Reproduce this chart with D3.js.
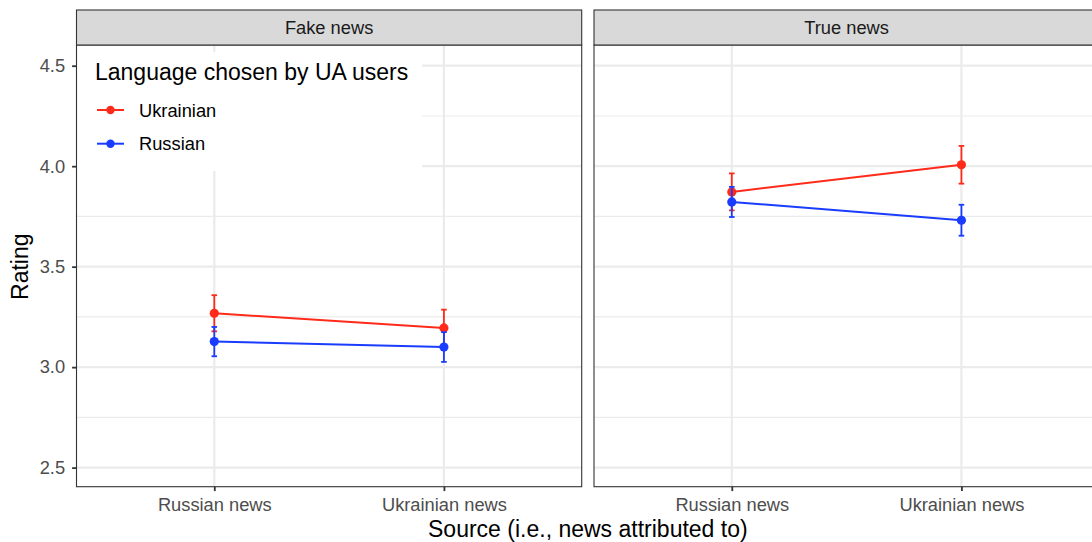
<!DOCTYPE html>
<html>
<head>
<meta charset="utf-8">
<script src="https://cdn.jsdelivr.net/npm/d3@7"></script>
<style>
  html, body { margin: 0; padding: 0; background: #fff; }
  svg { display: block; font-family: "Liberation Sans", Arial, Helvetica, sans-serif; }
</style>
</head>
<body>
<svg id="chart" width="1092" height="542"></svg>
<script>
// ---- data ----
const panels = ["Fake news", "True news"];
const sources = ["Russian news", "Ukrainian news"];
const languages = ["Ukrainian", "Russian"];
const languageColors = ["#ff2a1a", "#1a3cff"];
// means per panel, indexed by source
const fakeUkrainianMean = [3.268, 3.195];
const fakeUkrainianErr  = [0.090, 0.091];
const fakeRussianMean   = [3.127, 3.100];
const fakeRussianErr    = [0.073, 0.074];
const trueUkrainianMean = [3.872, 4.007];
const trueUkrainianErr  = [0.092, 0.094];
const trueRussianMean   = [3.822, 3.731];
const trueRussianErr    = [0.075, 0.077];
const yTicks = [2.5, 3.0, 3.5, 4.0, 4.5];
const yMinorTicks = [2.75, 3.25, 3.75, 4.25];
const yDomain = [2.405, 4.603];

const seriesByPanel = [
  [ {lang: 0, mean: fakeUkrainianMean, err: fakeUkrainianErr},
    {lang: 1, mean: fakeRussianMean, err: fakeRussianErr} ],
  [ {lang: 0, mean: trueUkrainianMean, err: trueUkrainianErr},
    {lang: 1, mean: trueRussianMean, err: trueRussianErr} ]
];

// ---- layout ----
const svg = d3.select("#chart");
const panelLeft = [76.5, 594];
const panelWidth = 505.2;
const panelTop = 45, panelBottom = 486.7, stripTop = 10;
const smallFont = 18.3, bigFont = 23;

const y = d3.scaleLinear().domain(yDomain).range([panelBottom, panelTop]);

panels.forEach((pname, pi) => {
  const x0 = panelLeft[pi];
  const x = d3.scalePoint().domain(sources).range([x0, x0 + panelWidth]).padding(0.6);
  const g = svg.append("g");

  g.append("rect").attr("x", x0).attr("y", panelTop).attr("width", panelWidth)
    .attr("height", panelBottom - panelTop).attr("fill", "#fff");

  g.selectAll(".minor").data(yMinorTicks).join("line")
    .attr("x1", x0).attr("x2", x0 + panelWidth)
    .attr("y1", d => y(d)).attr("y2", d => y(d))
    .attr("stroke", "#ebebeb").attr("stroke-width", 1.1);
  g.selectAll(".major").data(yTicks).join("line")
    .attr("x1", x0).attr("x2", x0 + panelWidth)
    .attr("y1", d => y(d)).attr("y2", d => y(d))
    .attr("stroke", "#ebebeb").attr("stroke-width", 2.2);
  g.selectAll(".vmajor").data(sources).join("line")
    .attr("x1", d => x(d)).attr("x2", d => x(d))
    .attr("y1", panelTop).attr("y2", panelBottom)
    .attr("stroke", "#ebebeb").attr("stroke-width", 2.2);

  if (pi === 0) {
    g.append("rect").attr("x", x0 + 0.5).attr("y", 52).attr("width", 345).attr("height", 119)
      .attr("fill", "#fff");
  }

  const line = d3.line().x((d, i) => x(sources[i])).y(d => y(d));
  seriesByPanel[pi].forEach(s => {
    const col = languageColors[s.lang];
    g.append("path").attr("d", line(s.mean)).attr("fill", "none")
      .attr("stroke", col).attr("stroke-width", 2);
    s.mean.forEach((m, i) => {
      const cx = x(sources[i]);
      const lo = y(m - s.err[i]), hi = y(m + s.err[i]);
      g.append("line").attr("x1", cx).attr("x2", cx).attr("y1", lo).attr("y2", hi)
        .attr("stroke", col).attr("stroke-width", 1.8);
      [lo, hi].forEach(yy => g.append("line").attr("x1", cx - 2.8).attr("x2", cx + 2.8)
        .attr("y1", yy).attr("y2", yy).attr("stroke", col).attr("stroke-width", 1.8));
      g.append("circle").attr("cx", cx).attr("cy", y(m)).attr("r", 4.6).attr("fill", col);
    });
  });

  g.append("rect").attr("x", x0).attr("y", panelTop).attr("width", panelWidth)
    .attr("height", panelBottom - panelTop).attr("fill", "none")
    .attr("stroke", "#333333").attr("stroke-width", 1.1);

  g.append("rect").attr("x", x0).attr("y", stripTop).attr("width", panelWidth)
    .attr("height", panelTop - stripTop).attr("fill", "#d9d9d9")
    .attr("stroke", "#333333").attr("stroke-width", 1.1);
  g.append("text").attr("x", x0 + panelWidth / 2).attr("y", 34)
    .attr("text-anchor", "middle").attr("font-size", smallFont).attr("fill", "#1a1a1a")
    .text(pname);

  const xa = g.append("g").attr("transform", `translate(0,${panelBottom})`)
    .call(d3.axisBottom(x).tickSize(4.4).tickPadding(7));
  xa.select(".domain").remove();
  xa.selectAll(".tick line").attr("stroke", "#333333").attr("stroke-width", 1.8);
  xa.selectAll(".tick text").attr("font-size", smallFont).attr("fill", "#4d4d4d")
    .attr("font-family", "Liberation Sans, Arial, sans-serif").attr("dy", "0.71em");
});

const ya = svg.append("g").attr("transform", `translate(${panelLeft[0]},0)`)
  .call(d3.axisLeft(y).tickValues(yTicks).tickFormat(d3.format(".1f")).tickSize(4.4).tickPadding(7));
ya.select(".domain").remove();
ya.selectAll(".tick line").attr("stroke", "#333333").attr("stroke-width", 1.8);
ya.selectAll(".tick text").attr("font-size", smallFont).attr("fill", "#4d4d4d")
  .attr("font-family", "Liberation Sans, Arial, sans-serif");

svg.append("text").attr("x", (panelLeft[0] + panelLeft[1] + panelWidth) / 2).attr("y", 537)
  .attr("text-anchor", "middle").attr("font-size", bigFont).attr("fill", "#000")
  .text("Source (i.e., news attributed to)");
svg.append("text").attr("transform", `translate(28,266.7) rotate(-90)`)
  .attr("text-anchor", "middle").attr("font-size", bigFont).attr("fill", "#000")
  .text("Rating");

const lg = svg.append("g");
lg.append("text").attr("x", 95).attr("y", 79.5).attr("font-size", bigFont).attr("fill", "#000")
  .text("Language chosen by UA users");
const legendY = [110, 143.7];
languages.forEach((lab, i) => {
  const col = languageColors[i];
  lg.append("line").attr("x1", 97).attr("x2", 124).attr("y1", legendY[i]).attr("y2", legendY[i])
    .attr("stroke", col).attr("stroke-width", 2);
  lg.append("circle").attr("cx", 110.5).attr("cy", legendY[i]).attr("r", 4.2).attr("fill", col);
  lg.append("text").attr("x", 139).attr("y", legendY[i] + 6.5).attr("font-size", smallFont)
    .attr("fill", "#000").text(lab);
});
</script>
</body>
</html>
